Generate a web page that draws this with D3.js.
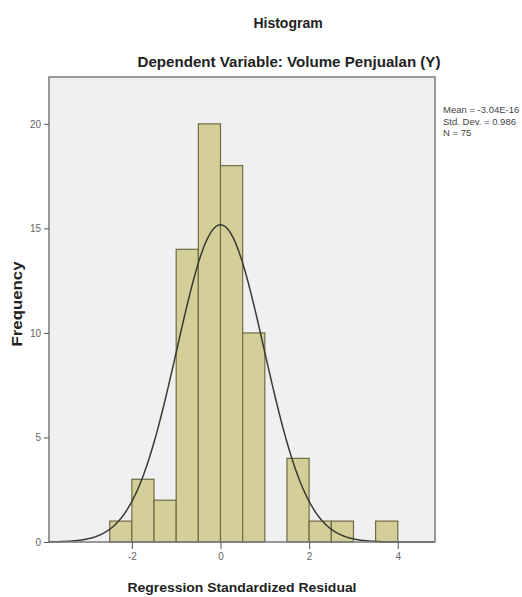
<!DOCTYPE html>
<html><head><meta charset="utf-8">
<script src="https://cdn.jsdelivr.net/npm/d3@7"></script>
<style>body{margin:0;background:#fff}svg{display:block}text{font-family:"Liberation Sans",Arial,sans-serif}</style>
</head><body><div id="c"></div>
<script>
const binStarts = [-2.5,-2,-1.5,-1,-0.5,0,0.5,1,1.5,2,2.5,3,3.5];
const binWidth = 0.5;
const counts = [1,3,2,14,20,18,10,0,4,1,1,0,1];
const xTicks = [-2,0,2,4];
const yTicks = [0,5,10,15,20];
const statLabels = ["Mean = -3.04E-16","Std. Dev. = 0.986","N = 75"];
const meanVal = 0, sdVal = 0.986, nVal = 75;

const W=522,H=597;
const svg=d3.select("#c").append("svg").attr("width",W).attr("height",H);
const L=49,R=435,T=77,B=542;
const x=d3.scaleLinear().domain([-3.87,4.84]).range([L,R]);
const y=d3.scaleLinear().domain([0,22.24]).range([B,T]);

svg.append("rect").attr("x",L).attr("y",T).attr("width",R-L).attr("height",B-T).attr("fill","#f0f0f0");

const bins=binStarts.map((s,i)=>({s,c:counts[i]})).filter(d=>d.c>0);
svg.append("g").selectAll("rect").data(bins).join("rect")
 .attr("x",d=>x(d.s)).attr("width",d=>x(d.s+binWidth)-x(d.s))
 .attr("y",d=>y(d.c)).attr("height",d=>y(0)-y(d.c))
 .attr("fill","#d4cf98").attr("stroke","#6f6c45").attr("stroke-width",1.2);

// normal curve
const xs=d3.range(-3.87,4.84,0.02);
const pdf=v=>nVal*binWidth/(sdVal*Math.sqrt(2*Math.PI))*Math.exp(-0.5*((v-meanVal)/sdVal)**2);
svg.append("path").datum(xs).attr("fill","none").attr("stroke","#3a3a30").attr("stroke-width",1.5)
 .attr("d",d3.line().x(v=>x(v)).y(v=>y(pdf(v))));

svg.append("rect").attr("x",L).attr("y",T).attr("width",R-L).attr("height",B-T)
 .attr("fill","none").attr("stroke","#7a7a7a").attr("stroke-width",1.5);

const ax=svg.append("g").attr("transform",`translate(0,${B})`)
 .call(d3.axisBottom(x).tickValues(xTicks).tickSize(7).tickPadding(4).tickFormat(d=>String(d)));
ax.select(".domain").remove();
ax.selectAll("line").attr("stroke","#555");
ax.selectAll("text").attr("fill","#666").attr("font-size",10);

const ay=svg.append("g").attr("transform",`translate(${L},0)`)
 .call(d3.axisLeft(y).tickValues(yTicks).tickSize(5).tickPadding(3).tickFormat(d=>String(d)));
ay.select(".domain").remove();
ay.selectAll("line").attr("stroke","#555");
ay.selectAll("text").attr("fill","#666").attr("font-size",10);

svg.append("text").attr("x",288).attr("y",28).attr("text-anchor","middle")
 .attr("font-weight","bold").attr("font-size",14).attr("fill","#222").text("Histogram");
svg.append("text").attr("x",289).attr("y",67).attr("text-anchor","middle")
 .attr("font-weight","bold").attr("font-size",14).attr("fill","#222")
 .attr("textLength",303).attr("lengthAdjust","spacingAndGlyphs").text("Dependent Variable: Volume Penjualan (Y)");
svg.append("text").attr("x",242).attr("y",592).attr("text-anchor","middle")
 .attr("font-weight","bold").attr("font-size",13).attr("fill","#222")
 .attr("textLength",229).attr("lengthAdjust","spacingAndGlyphs").text("Regression Standardized Residual");
svg.append("text").attr("transform","translate(22,304) rotate(-90)").attr("text-anchor","middle")
 .attr("font-weight","bold").attr("font-size",15).attr("fill","#222")
 .attr("textLength",85).attr("lengthAdjust","spacingAndGlyphs").text("Frequency");

svg.append("g").selectAll("text").data(statLabels).join("text")
 .attr("x",443).attr("y",(d,i)=>113+i*11.5).attr("font-size",9.5).attr("fill","#444").text(d=>d);
</script></body></html>
